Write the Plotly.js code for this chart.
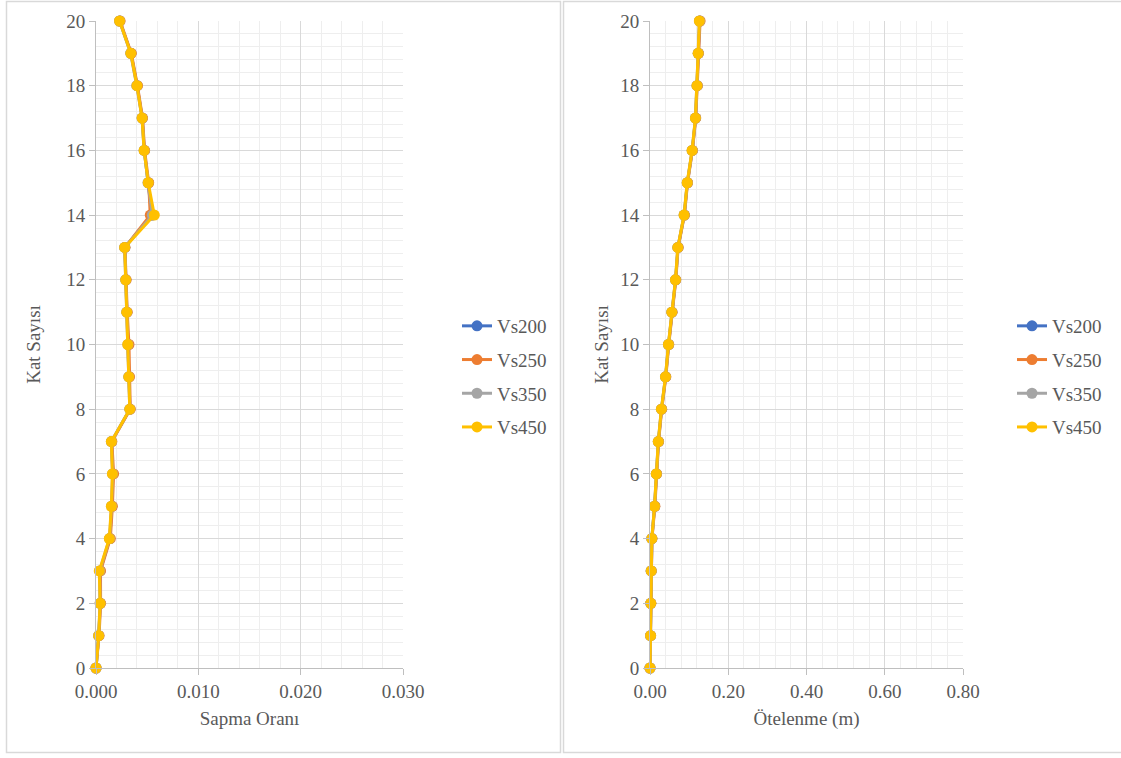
<!DOCTYPE html>
<html>
<head>
<meta charset="utf-8">
<script src="https://cdn.plot.ly/plotly-3.0.1.min.js"></script>
<style>html,body{margin:0;padding:0;background:#fff;}#chart{width:1121px;height:758px;}</style>
</head>
<body>
<div id="chart"></div>
<script>
const floors = [0,1,2,3,4,5,6,7,8,9,10,11,12,13,14,15,16,17,18,19,20];
const seriesNames = ['Vs200','Vs250','Vs350','Vs450'];
const seriesColors = ['#4472C4','#ED7D31','#A5A5A5','#FFC000'];

// Sapma Oranı (drift ratio)
const drift_Vs200 = [0,0.00027,0.00042,0.00040,0.00135,0.00155,0.00165,0.00152,0.00332,0.00322,0.00315,0.00302,0.00292,0.00282,0.00545,0.00512,0.00472,0.00452,0.00402,0.00342,0.00232];
const drift_Vs250 = [0,0.00030,0.00045,0.00044,0.00140,0.00160,0.00172,0.00155,0.00335,0.00328,0.00322,0.00305,0.00295,0.00283,0.00530,0.00515,0.00475,0.00455,0.00405,0.00345,0.00235];
const drift_Vs350 = [0,0.00026,0.00040,0.00036,0.00132,0.00152,0.00162,0.00150,0.00330,0.00320,0.00312,0.00300,0.00290,0.00280,0.00550,0.00508,0.00470,0.00450,0.00398,0.00338,0.00230];
const drift_Vs450 = [0,0.00026,0.00040,0.00032,0.00130,0.00150,0.00160,0.00150,0.00330,0.00320,0.00310,0.00300,0.00290,0.00280,0.00570,0.00510,0.00470,0.00450,0.00400,0.00340,0.00230];

// Ötelenme (m) (displacement)
const disp_Vs200 = [0,0.0015,0.0020,0.0030,0.0048,0.0118,0.0165,0.0215,0.0295,0.0400,0.0475,0.0560,0.0655,0.0715,0.0875,0.0955,0.1080,0.1165,0.1205,0.1235,0.1270];
const disp_Vs250 = [0,0.0016,0.0022,0.0032,0.0050,0.0125,0.0170,0.0220,0.0300,0.0405,0.0480,0.0565,0.0660,0.0720,0.0880,0.0960,0.1085,0.1170,0.1210,0.1240,0.1280];
const disp_Vs350 = [0,0.0015,0.0020,0.0030,0.0046,0.0116,0.0162,0.0212,0.0292,0.0396,0.0472,0.0558,0.0652,0.0712,0.0872,0.0952,0.1078,0.1162,0.1202,0.1232,0.1265];
const disp_Vs450 = [0,0.0015,0.0020,0.0030,0.0046,0.0115,0.0160,0.0210,0.0290,0.0395,0.0470,0.0556,0.0650,0.0710,0.0870,0.0950,0.1075,0.1160,0.1200,0.1230,0.1260];

const driftSeries = [drift_Vs200, drift_Vs250, drift_Vs350, drift_Vs450];
const dispSeries = [disp_Vs200, disp_Vs250, disp_Vs350, disp_Vs450];

const leftTicks = [0,0.01,0.02,0.03];
const leftTickText = ['0.000','0.010','0.020','0.030'];
const rightTicks = [0,0.2,0.4,0.6,0.8];
const rightTickText = ['0.00','0.20','0.40','0.60','0.80'];
const floorTicks = [0,2,4,6,8,10,12,14,16,18,20];

const W = 1121, PT = 21, PB = 90, PH = 758 - PT - PB;
const px = v => v / W;
const py = v => (758 - PB - v) / PH;
function F() { return {family: 'Liberation Serif', size: 19, color: '#595959'}; }

const traces = [];
seriesNames.forEach((n, i) => {
  traces.push({
    x: driftSeries[i], y: floors, type: 'scatter', mode: 'lines+markers', name: n,
    xaxis: 'x', yaxis: 'y', legend: 'legend', legendgroup: 'a' + i, cliponaxis: false,
    line: {color: seriesColors[i], width: 3},
    marker: {color: seriesColors[i], size: 11}
  });
});
seriesNames.forEach((n, i) => {
  traces.push({
    x: dispSeries[i], y: floors, type: 'scatter', mode: 'lines+markers', name: n,
    xaxis: 'x2', yaxis: 'y2', legend: 'legend2', legendgroup: 'b' + i, cliponaxis: false,
    line: {color: seriesColors[i], width: 3},
    marker: {color: seriesColors[i], size: 11}
  });
});

const gridC = '#d9d9d9', minorC = '#eeeeee';

function yAxis(anchor, standoff) {
  return {
    range: [0, 20], tickvals: floorTicks.slice(), tickfont: F(),
    showgrid: true, gridcolor: gridC, gridwidth: 1,
    minor: {dtick: 0.4, showgrid: true, gridcolor: minorC, gridwidth: 1, ticks: ''},
    showline: true, linecolor: '#bfbfbf', linewidth: 1,
    ticks: 'outside', ticklen: 6, tickcolor: '#bfbfbf',
    zeroline: false, anchor: anchor, domain: [0, 1],
    title: {text: 'Kat Sayısı', font: F(), standoff: standoff}
  };
}

function legend(xp) {
  return {
    font: F(), bgcolor: 'rgba(0,0,0,0)', borderwidth: 0,
    tracegroupgap: 6, xanchor: 'left', yanchor: 'top', itemwidth: 30,
    x: px(xp), y: py(307)
  };
}

const layout = {
  width: 1121, height: 758,
  margin: {l: 0, r: 0, t: PT, b: PB, pad: 0},
  paper_bgcolor: '#ffffff', plot_bgcolor: '#ffffff',
  showlegend: true,
  xaxis: {
    domain: [px(96), px(403)], range: [0, 0.03],
    tickvals: leftTicks, ticktext: leftTickText, tickfont: F(),
    showgrid: true, gridcolor: gridC,
    minor: {dtick: 0.002, showgrid: true, gridcolor: minorC, ticks: ''},
    showline: true, linecolor: '#bfbfbf', ticks: 'outside', ticklen: 6, tickcolor: '#bfbfbf',
    zeroline: false, anchor: 'y',
    title: {text: 'Sapma Oranı', font: F(), standoff: 10}
  },
  yaxis: yAxis('x', 20),
  xaxis2: {
    domain: [px(650), px(963)], range: [0, 0.8],
    tickvals: rightTicks, ticktext: rightTickText, tickfont: F(),
    showgrid: true, gridcolor: gridC,
    minor: {dtick: 0.04, showgrid: true, gridcolor: minorC, ticks: ''},
    showline: true, linecolor: '#bfbfbf', ticks: 'outside', ticklen: 6, tickcolor: '#bfbfbf',
    zeroline: false, anchor: 'y2',
    title: {text: 'Ötelenme (m)', font: F(), standoff: 10}
  },
  yaxis2: yAxis('x2', 6),
  legend: legend(457),
  legend2: legend(1012),
  shapes: [
    {type: 'rect', xref: 'paper', yref: 'paper', x0: px(6.5), x1: px(560.5), y0: py(752.5), y1: py(1.5),
     line: {color: '#d9d9d9', width: 1.5}, fillcolor: 'rgba(0,0,0,0)', layer: 'below'},
    {type: 'rect', xref: 'paper', yref: 'paper', x0: px(563.5), x1: px(1125), y0: py(752.5), y1: py(1.5),
     line: {color: '#d9d9d9', width: 1.5}, fillcolor: 'rgba(0,0,0,0)', layer: 'below'}
  ]
};

Plotly.newPlot('chart', traces, layout, {displayModeBar: false});
</script>
</body>
</html>
